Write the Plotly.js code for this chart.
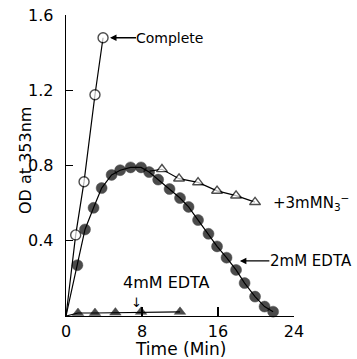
<!DOCTYPE html>
<html>
<head>
<meta charset="utf-8">
<script src="https://cdn.plot.ly/plotly-3.0.1.min.js"></script>
<style>html,body{margin:0;padding:0;background:#fff;}#chart{width:357px;height:359px;}</style>
</head>
<body>
<div id="chart"></div>
<script>
// Complete (open circles)
const completeX = [0, 1.02, 1.9, 3.05, 3.9];
const completeY = [0, 0.431, 0.714, 1.176, 1.479];

// 2 mM EDTA (filled circles)
const edta2X = [0, 1.2, 2.0, 2.9, 3.75, 4.8, 5.7, 6.8, 7.9, 8.75, 9.7, 10.9, 12.0, 12.9, 13.9, 15.0, 15.9, 16.9, 17.9, 18.8, 19.9, 20.9, 21.8];
const edta2Y = [0, 0.27, 0.46, 0.575, 0.68, 0.75, 0.775, 0.79, 0.79, 0.765, 0.725, 0.675, 0.627, 0.58, 0.51, 0.437, 0.37, 0.31, 0.245, 0.175, 0.103, 0.05, 0.023];

// +3 mM N3- (open triangles), branching off the EDTA curve
const azideX = [8.8, 10.1, 11.9, 13.9, 15.9, 17.9, 19.9];
const azideY = [0.77, 0.78, 0.73, 0.71, 0.665, 0.64, 0.605];

// 4 mM EDTA (filled triangles)
const edta4X = [0, 1.26, 3.05, 5.2, 7.9, 12.0];
const edta4Y = [0, 0.016, 0.016, 0.018, 0.022, 0.022];

const xTicks = [0, 8, 16, 24];
const xTickText = ['0', '8', '16', '24'];
const yTicks = [0.4, 0.8, 1.2, 1.6];
const yTickText = ['0.4', '0.8', '1.2', '1.6'];

const sizes = (arr, s) => arr.map((v, i) => i === 0 ? 0 : s);

const traces = [
  {
    x: edta4X, y: edta4Y, mode: 'lines+markers', type: 'scatter',
    line: {color: '#000', width: 1.2},
    marker: {symbol: 'triangle-up', size: sizes(edta4X, 10), color: '#000', line: {color: '#000', width: 0.5}},
    cliponaxis: false
  },
  {
    x: completeX, y: completeY, mode: 'lines+markers', type: 'scatter',
    line: {color: '#000', width: 1.2},
    marker: {symbol: 'circle', size: sizes(completeX, 10), color: '#fff', line: {color: '#000', width: 1.4}},
    cliponaxis: false
  },
  {
    x: edta2X, y: edta2Y, mode: 'lines+markers', type: 'scatter',
    line: {color: '#000', width: 1.2},
    marker: {symbol: 'circle', size: sizes(edta2X, 11), color: '#000', line: {color: '#000', width: 0.5}},
    cliponaxis: false
  },
  {
    x: azideX, y: azideY, mode: 'lines+markers', type: 'scatter',
    line: {color: '#000', width: 1.2},
    marker: {symbol: 'triangle-up', size: sizes(azideX, 9.5), color: '#fff', line: {color: '#000', width: 1.4}},
    cliponaxis: false
  }
];

const font = {family: 'DejaVu Sans, sans-serif', color: '#000'};
const f = (s) => Object.assign({size: s}, font);

const layout = {
  width: 357, height: 359,
  margin: {l: 66, r: 63, t: 15, b: 43, pad: 0},
  paper_bgcolor: '#fff', plot_bgcolor: '#fff',
  showlegend: false,
  font: f(16),
  xaxis: {
    range: [0, 24], tickvals: xTicks, ticktext: xTickText,
    showgrid: false, zeroline: false, showline: true, linecolor: '#000', linewidth: 1.3,
    ticks: 'inside', ticklen: 9, tickwidth: 1.3, tickcolor: '#000',
    tickfont: f(16), ticklabelstandoff: 0
  },
  yaxis: {
    range: [0, 1.6], tickvals: yTicks, ticktext: yTickText,
    showgrid: false, zeroline: false, showline: true, linecolor: '#000', linewidth: 1.3,
    ticks: 'inside', ticklen: 7, tickwidth: 1.3, tickcolor: '#000',
    tickfont: f(16), ticklabelstandoff: 8
  },
  annotations: [
    {xref: 'paper', yref: 'paper', x: (25 - 66) / 228, y: (316 - 161) / 301, text: 'OD at 353nm', textangle: -90,
     showarrow: false, font: f(16), xanchor: 'center', yanchor: 'middle'},
    {xref: 'paper', yref: 'paper', x: 0.5, y: (316 - 349) / 301, text: 'Time (Min)',
     showarrow: false, font: f(17), xanchor: 'center', yanchor: 'middle'},

    // Complete (arrow from text to point)
    {xref: 'x', yref: 'y', x: 4.63, y: 1.479, text: 'Complete', showarrow: true, ax: 60, ay: 0,
     arrowhead: 2, arrowsize: 1, arrowwidth: 1.3, arrowcolor: '#000', font: f(14), borderpad: 0},

    // +3mM N3-
    {xref: 'paper', yref: 'paper', x: (271 - 66) / 228, y: (316 - 202) / 301, text: '+3mMN<sub>3</sub><sup>\u2212</sup>',
     showarrow: false, xanchor: 'left', yanchor: 'middle', font: f(15)},

    // 2mM EDTA
    {xref: 'x', yref: 'y', x: 18.3, y: 0.293, text: '2mM EDTA', showarrow: true, ax: 71, ay: 0,
     arrowhead: 2, arrowsize: 1, arrowwidth: 1.3, arrowcolor: '#000', font: f(15), borderpad: 0},

    // 4mM EDTA
    {xref: 'paper', yref: 'paper', x: (121 - 66) / 228, y: (316 - 282) / 301, text: '4mM EDTA',
     showarrow: false, xanchor: 'left', yanchor: 'middle', font: f(16)},
    {xref: 'paper', yref: 'paper', x: (136 - 66) / 228, y: (316 - 302) / 301, text: '\u2193',
     showarrow: false, xanchor: 'center', yanchor: 'middle', font: f(13)}
  ]
};

Plotly.newPlot('chart', traces, layout, {staticPlot: true, displayModeBar: false});
</script>
</body>
</html>
